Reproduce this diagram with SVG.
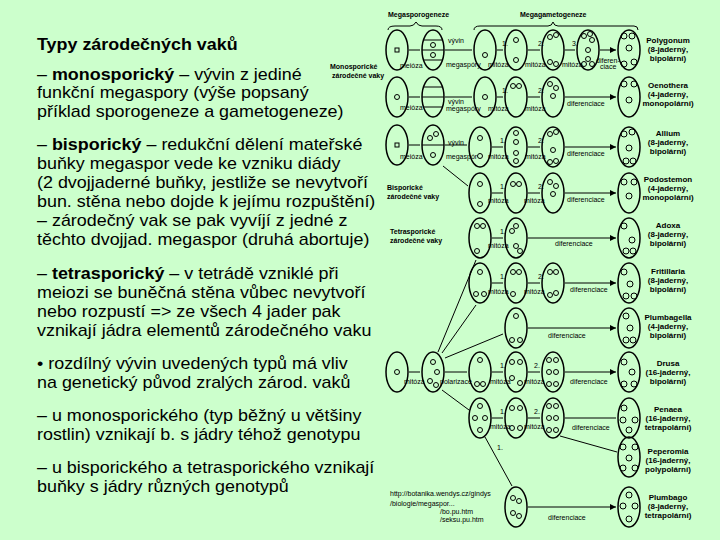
<svg xmlns="http://www.w3.org/2000/svg" width="720" height="540" viewBox="0 0 720 540">
<style>
.t{font-family:"Liberation Sans",Arial,sans-serif;font-size:16px;fill:#000}
.b{font-weight:bold}
.s{font-family:"Liberation Sans",Arial,sans-serif;font-size:7px;fill:#000}
.l{font-family:"Liberation Sans",Arial,sans-serif;font-size:8px;font-weight:bold;fill:#000;text-anchor:middle}
.c{fill:none;stroke:#000;stroke-width:1.5}
.n{fill:none;stroke:#000;stroke-width:1}
.a{fill:none;stroke:#000;stroke-width:1;marker-end:url(#ar)}
</style>
<defs>
<marker id="ar" markerWidth="6" markerHeight="6" refX="6" refY="3" orient="auto"><path d="M0,0 L6,3 L0,6 z" fill="#000"/></marker>
<g id="e"><ellipse class="c" cx="0" cy="0" rx="11" ry="20"/></g>
</defs>
<rect width="720" height="540" fill="#ccffcc"/>
<g id="text" transform="translate(37,0) scale(1.12,1) translate(-37,0)">
<text class="t b" x="37" y="50">Typy zárodečných vaků</text>
<text class="t" x="37" y="80">– <tspan class="b">monosporický</tspan> – vývin z jediné</text>
<text class="t" x="37" y="98">funkční megaspory (výše popsaný</text>
<text class="t" x="37" y="117">příklad sporogeneze a gametogeneze)</text>
<text class="t" x="37" y="150">– <tspan class="b">bisporický</tspan> – redukční dělení mateřské</text>
<text class="t" x="37" y="169">buňky megaspor vede ke vzniku diády</text>
<text class="t" x="37" y="188">(2 dvojjaderné buňky, jestliže se nevytvoří</text>
<text class="t" x="37" y="207">bun. stěna nebo dojde k jejímu rozpuštění)</text>
<text class="t" x="37" y="226">– zárodečný vak se pak vyvíjí z jedné z</text>
<text class="t" x="37" y="245">těchto dvojjad. megaspor (druhá abortuje)</text>
<text class="t" x="37" y="279">– <tspan class="b">tetrasporický</tspan> – v tetrádě vzniklé při</text>
<text class="t" x="37" y="298">meiozi se buněčná stěna vůbec nevytvoří</text>
<text class="t" x="37" y="317">nebo rozpustí =&gt; ze všech 4 jader pak</text>
<text class="t" x="37" y="336">vznikají jádra elementů zárodečného vaku</text>
<text class="t" x="37" y="369">• rozdílný vývin uvedených typů má vliv</text>
<text class="t" x="37" y="388">na genetický původ zralých zárod. vaků</text>
<text class="t" x="37" y="421">– u monosporického (typ běžný u většiny</text>
<text class="t" x="37" y="440">rostlin) vznikají b. s jádry téhož genotypu</text>
<text class="t" x="37" y="473">– u bisporického a tetrasporického vznikají</text>
<text class="t" x="37" y="492">buňky s jádry různých genotypů</text>
</g>
<g id="headers">
<text class="s" x="388" y="17" font-weight="bold">Megasporogeneze</text>
<text class="s" x="520" y="17" font-weight="bold">Megagametogeneze</text>
<path class="n" d="M388,30 Q388,26 395,26 L410,26 Q414,26 416,22 Q418,26 422,26 L436,26 Q442,26 442,30"/>
<path class="n" d="M474,30 Q474,26 480,26 L548,26 Q552,26 553,22 Q554,26 558,26 L634,26 Q638,26 638,30"/>
<text class="s" x="330" y="69" font-weight="bold">Monosporické</text>
<text class="s" x="332" y="78" font-weight="bold">zárodečné vaky</text>
<text class="s" x="387" y="190" font-weight="bold">Bisporické</text>
<text class="s" x="387" y="199" font-weight="bold">zárodečné vaky</text>
<text class="s" x="390" y="234" font-weight="bold">Tetrasporické</text>
<text class="s" x="390" y="243" font-weight="bold">zárodečné vaky</text>
<text class="s" x="390" y="496" font-size="5">http://botanika.wendys.cz/gindys</text>
<text class="s" x="390" y="506" font-size="5">/biologie/megaspor...</text>
<text class="s" x="440" y="514" font-size="5">/bo.pu.htm</text>
<text class="s" x="440" y="522" font-size="5">/seksu.pu.htm</text>
</g>
<g id="cells">
<use href="#e" x="397" y="50"/><use href="#e" x="433" y="50"/><use href="#e" x="485" y="50"/><use href="#e" x="516" y="50"/><use href="#e" x="553" y="50"/><use href="#e" x="588" y="50"/><use href="#e" x="629" y="50"/>
<use href="#e" x="397" y="97"/><use href="#e" x="433" y="97"/><use href="#e" x="485" y="97"/><use href="#e" x="516" y="97"/><use href="#e" x="553" y="97"/><use href="#e" x="629" y="97"/>
<use href="#e" x="397" y="145"/><use href="#e" x="433" y="145"/><use href="#e" x="480" y="147"/><use href="#e" x="516" y="147"/><use href="#e" x="553" y="147"/><use href="#e" x="629" y="147"/>
<use href="#e" x="480" y="193"/><use href="#e" x="516" y="193"/><use href="#e" x="553" y="193"/><use href="#e" x="629" y="193"/>
<use href="#e" x="480" y="238"/><use href="#e" x="516" y="238"/><use href="#e" x="629" y="238"/>
<use href="#e" x="480" y="283"/><use href="#e" x="516" y="283"/><use href="#e" x="553" y="283"/><use href="#e" x="629" y="283"/>
<use href="#e" x="516" y="328"/><use href="#e" x="629" y="328"/>
<use href="#e" x="397" y="372"/><use href="#e" x="433" y="372"/><use href="#e" x="480" y="372"/><use href="#e" x="516" y="372"/><use href="#e" x="553" y="372"/><use href="#e" x="629" y="372"/>
<use href="#e" x="480" y="418"/><use href="#e" x="516" y="418"/><use href="#e" x="553" y="418"/><use href="#e" x="629" y="418"/>
<use href="#e" x="629" y="457"/>
<use href="#e" x="516" y="507"/><use href="#e" x="629" y="507"/>
<path class="n" d="M423,40 H443 M422,50 H444 M423,60 H443 M423,87 H443 M422,97 H444 M423,107 H443 M422,145 H444"/>
<g class="n">
<rect x="395" y="48" width="4" height="4"/><circle cx="433" cy="45" r="2.5"/><circle cx="433" cy="55" r="2.5"/><circle cx="485" cy="55" r="2.5"/><circle cx="516" cy="40" r="2.5"/><circle cx="516" cy="60" r="2.5"/>
<circle cx="550" cy="37" r="2.5"/><circle cx="556" cy="35" r="2.5"/><circle cx="550" cy="62" r="2.5"/><circle cx="556" cy="64" r="2.5"/>
<circle cx="584" cy="36" r="2.5"/><circle cx="590" cy="34" r="2.5"/><circle cx="592" cy="40" r="2.5"/><circle cx="588" cy="50" r="2.5"/><circle cx="584" cy="64" r="2.5"/><circle cx="592" cy="64" r="2.5"/><circle cx="588" cy="59" r="2.5"/>
<circle cx="624" cy="36" r="3"/><circle cx="632" cy="36" r="3"/><circle cx="629" cy="48" r="3"/><circle cx="624" cy="64" r="3"/><circle cx="634" cy="62" r="3"/>
<circle cx="397" cy="97" r="2.5"/><circle cx="485" cy="97" r="2.5"/><circle cx="513" cy="86" r="2.5"/><circle cx="519" cy="86" r="2.5"/><circle cx="550" cy="84" r="2.5"/><circle cx="556" cy="88" r="2.5"/><circle cx="553" cy="96" r="2.5"/><circle cx="624" cy="84" r="3"/><circle cx="634" cy="84" r="3"/><circle cx="629" cy="100" r="3"/>
<rect x="395" y="143" width="4" height="4"/><circle cx="436" cy="134" r="2.5"/><circle cx="430" cy="138" r="2.5"/><circle cx="433" cy="155" r="2.5"/><circle cx="480" cy="138" r="2.5"/><circle cx="480" cy="156" r="2.5"/>
<circle cx="516" cy="133" r="2.5"/><circle cx="516" cy="142" r="2.5"/><circle cx="516" cy="153" r="2.5"/><circle cx="516" cy="161" r="2.5"/>
<circle cx="550" cy="134" r="2.5"/><circle cx="556" cy="132" r="2.5"/><circle cx="553" cy="150" r="2.5"/><circle cx="550" cy="162" r="2.5"/><circle cx="556" cy="161" r="2.5"/>
<circle cx="624" cy="134" r="3"/><circle cx="632" cy="132" r="3"/><circle cx="629" cy="148" r="3"/><circle cx="626" cy="161" r="3"/><circle cx="633" cy="161" r="3"/>
<circle cx="480" cy="184" r="2.5"/><circle cx="480" cy="204" r="2.5"/><circle cx="513" cy="184" r="2.5"/><circle cx="519" cy="184" r="2.5"/><circle cx="550" cy="182" r="2.5"/><circle cx="556" cy="186" r="2.5"/><circle cx="553" cy="194" r="2.5"/><circle cx="624" cy="182" r="3"/><circle cx="634" cy="182" r="3"/><circle cx="629" cy="196" r="3"/>
<circle cx="477" cy="226" r="2.5"/><circle cx="483" cy="226" r="2.5"/><circle cx="477" cy="251" r="2.5"/><circle cx="516" cy="226" r="2.5"/><circle cx="512" cy="231" r="2.5"/><circle cx="516" cy="246" r="2.5"/><circle cx="520" cy="251" r="2.5"/><circle cx="624" cy="226" r="3"/><circle cx="632" cy="240" r="3"/><circle cx="626" cy="251" r="3"/><circle cx="633" cy="251" r="3"/>
<circle cx="480" cy="272" r="2.5"/><circle cx="476" cy="294" r="2.5"/><circle cx="484" cy="294" r="2.5"/><circle cx="513" cy="272" r="2.5"/><circle cx="519" cy="272" r="2.5"/><circle cx="513" cy="294" r="2.5"/><circle cx="550" cy="272" r="2.5"/><circle cx="556" cy="272" r="2.5"/><circle cx="550" cy="295" r="2.5"/><circle cx="556" cy="293" r="2.5"/><circle cx="624" cy="272" r="3"/><circle cx="630" cy="284" r="3"/><circle cx="626" cy="296" r="3"/><circle cx="634" cy="296" r="3"/>
<circle cx="516" cy="316" r="2.5"/><circle cx="512" cy="340" r="2.5"/><circle cx="520" cy="340" r="2.5"/><circle cx="626" cy="316" r="3"/><circle cx="630" cy="328" r="3"/><circle cx="626" cy="340" r="3"/><circle cx="633" cy="340" r="3"/>
<circle cx="397" cy="372" r="2.5"/><circle cx="433" cy="362" r="2.5"/><circle cx="437" cy="372" r="2.5"/><circle cx="430" cy="381" r="2.5"/><circle cx="436" cy="385" r="2.5"/>
<circle cx="480" cy="360" r="2.5"/><circle cx="477" cy="384" r="2.5"/><circle cx="483" cy="384" r="2.5"/><circle cx="512" cy="362" r="2.5"/><circle cx="520" cy="362" r="2.5"/><circle cx="512" cy="378" r="2.5"/><circle cx="520" cy="383" r="2.5"/>
<circle cx="549" cy="360" r="2.5"/><circle cx="556" cy="360" r="2.5"/><circle cx="549" cy="372" r="2.5"/><circle cx="556" cy="372" r="2.5"/><circle cx="549" cy="384" r="2.5"/><circle cx="556" cy="384" r="2.5"/>
<circle cx="624" cy="362" r="3"/><circle cx="632" cy="372" r="3"/><circle cx="624" cy="384" r="3"/><circle cx="634" cy="384" r="3"/>
<circle cx="475" cy="418" r="2.5"/><circle cx="485" cy="418" r="2.5"/><circle cx="480" cy="406" r="2.5"/><circle cx="480" cy="430" r="2.5"/>
<circle cx="512" cy="408" r="2.5"/><circle cx="520" cy="408" r="2.5"/><circle cx="512" cy="428" r="2.5"/><circle cx="520" cy="428" r="2.5"/>
<circle cx="549" cy="406" r="2.5"/><circle cx="556" cy="406" r="2.5"/><circle cx="549" cy="418" r="2.5"/><circle cx="556" cy="418" r="2.5"/><circle cx="549" cy="430" r="2.5"/><circle cx="556" cy="430" r="2.5"/>
<circle cx="624" cy="408" r="3"/><circle cx="623" cy="420" r="3"/><circle cx="635" cy="420" r="3"/><circle cx="629" cy="430" r="3"/>
<circle cx="623" cy="447" r="3"/><circle cx="635" cy="447" r="3"/><circle cx="623" cy="468" r="3"/><circle cx="635" cy="468" r="3"/><circle cx="629" cy="458" r="3"/>
<circle cx="513" cy="498" r="2.5"/><circle cx="519" cy="501" r="2.5"/><circle cx="513" cy="513" r="2.5"/><circle cx="519" cy="516" r="2.5"/>
<circle cx="623" cy="506" r="3"/><circle cx="635" cy="506" r="3"/><circle cx="629" cy="519" r="3"/><circle cx="629" cy="495" r="3"/>
</g>
</g>
<g id="connectors">
<path class="a" d="M409,50H420 M445,50H472 M497,50H503 M528,50H540 M565,50H575 M600,50H616"/>
<path class="a" d="M409,97H420 M445,97H472 M497,97H503 M528,97H540 M565,97H616"/>
<path class="a" d="M409,145H420 M445,145H467 M492,147H503 M528,147H540 M565,147H616"/>
<path class="a" d="M443,166L468,186 M492,193H503 M528,193H540 M565,193H616"/>
<path class="a" d="M492,238H503 M528,238H616"/>
<path class="a" d="M492,283H503 M528,283H540 M565,283H616"/>
<path class="a" d="M528,328H616"/>
<path class="a" d="M409,372H420 M445,372H467 M492,372H503 M528,372H540 M565,372H616"/>
<path class="a" d="M438,352L476,260 M442,353L476,305 M445,358L503,334 M442,390L469,410 M492,418H503 M528,418H540 M565,418H616 M560,436L617,452 M485,437L512,486 M528,507H616"/>
</g>
<g id="labels" class="s">
<text x="400" y="68">meióza</text><text x="448" y="43">vývin</text><text x="446" y="67">megaspóry</text>
<text x="502" y="46">1.</text><text x="538" y="46">2.</text><text x="572" y="46">3.</text>
<text x="488" y="67">mitóza</text><text x="525" y="67">mitóza</text><text x="562" y="67">mitóza</text><text x="596" y="63">diferen-</text><text x="600" y="69">ciace</text>
<text x="400" y="110">meióza</text><text x="448" y="104">vývin</text><text x="446" y="111">megaspóry</text><text x="502" y="93">1.</text><text x="538" y="93">2.</text><text x="488" y="111">mitóza</text><text x="525" y="111">mitóza</text><text x="567" y="106">diferenciace</text>
<text x="400" y="159">meióza</text><text x="448" y="145">vývin</text><text x="446" y="159">megaspór</text><text x="500" y="143">1.</text><text x="538" y="143">2.</text><text x="488" y="159">mitóza</text><text x="525" y="159">mitóza</text><text x="567" y="156">diferenciace</text>
<text x="500" y="189">1.</text><text x="538" y="189">2.</text><text x="488" y="203">mitóza</text><text x="524" y="203">mitóza</text><text x="567" y="202">diferenciace</text>
<text x="500" y="234">1.</text><text x="488" y="248">mitóza</text><text x="555" y="246">diferenciace</text>
<text x="500" y="279">1.</text><text x="538" y="279">2.</text><text x="488" y="294">mitóza</text><text x="524" y="294">mitóza</text><text x="570" y="292">diferenciace</text>
<text x="548" y="338">diferenciace</text>
<text x="404" y="384">mitóza</text><text x="440" y="384">polarizace</text><text x="500" y="368">1.</text><text x="534" y="368">2.</text><text x="490" y="384">mitóza</text><text x="524" y="384">mitóza</text><text x="570" y="384">diferenciace</text>
<text x="500" y="414">1.</text><text x="534" y="414">2.</text><text x="490" y="429">mitóza</text><text x="524" y="429">mitóza</text><text x="572" y="430">diferenciace</text><text x="497" y="450">1.</text>
<text x="548" y="520">diferenciace</text>
</g>
<g id="typenames">
<text class="l" x="668" y="43">Polygonum</text><text class="l" x="668" y="52">(8-jaderný,</text><text class="l" x="668" y="61">bipolární)</text>
<text class="l" x="668" y="88">Oenothera</text><text class="l" x="668" y="97">(4-jaderný,</text><text class="l" x="668" y="106">monopolární)</text>
<text class="l" x="668" y="136">Allium</text><text class="l" x="668" y="145">(8-jaderný,</text><text class="l" x="668" y="154">bipolární)</text>
<text class="l" x="668" y="182">Podostemon</text><text class="l" x="668" y="191">(4-jaderný,</text><text class="l" x="668" y="200">monopolární)</text>
<text class="l" x="668" y="228">Adoxa</text><text class="l" x="668" y="237">(8-jaderný,</text><text class="l" x="668" y="246">bipolární)</text>
<text class="l" x="668" y="274">Fritillaria</text><text class="l" x="668" y="283">(8-jaderný,</text><text class="l" x="668" y="292">bipolární)</text>
<text class="l" x="668" y="320">Plumbagella</text><text class="l" x="668" y="329">(4-jaderný,</text><text class="l" x="668" y="338">bipolární)</text>
<text class="l" x="668" y="366">Drusa</text><text class="l" x="668" y="375">(16-jaderný,</text><text class="l" x="668" y="384">bipolární)</text>
<text class="l" x="668" y="412">Penaea</text><text class="l" x="668" y="421">(16-jaderný,</text><text class="l" x="668" y="430">tetrapolární)</text>
<text class="l" x="668" y="454">Peperomia</text><text class="l" x="668" y="463">(16-jaderný,</text><text class="l" x="668" y="472">polypolární)</text>
<text class="l" x="668" y="500">Plumbago</text><text class="l" x="668" y="509">(8-jaderný,</text><text class="l" x="668" y="518">tetrapolární)</text>
</g>
</svg>
